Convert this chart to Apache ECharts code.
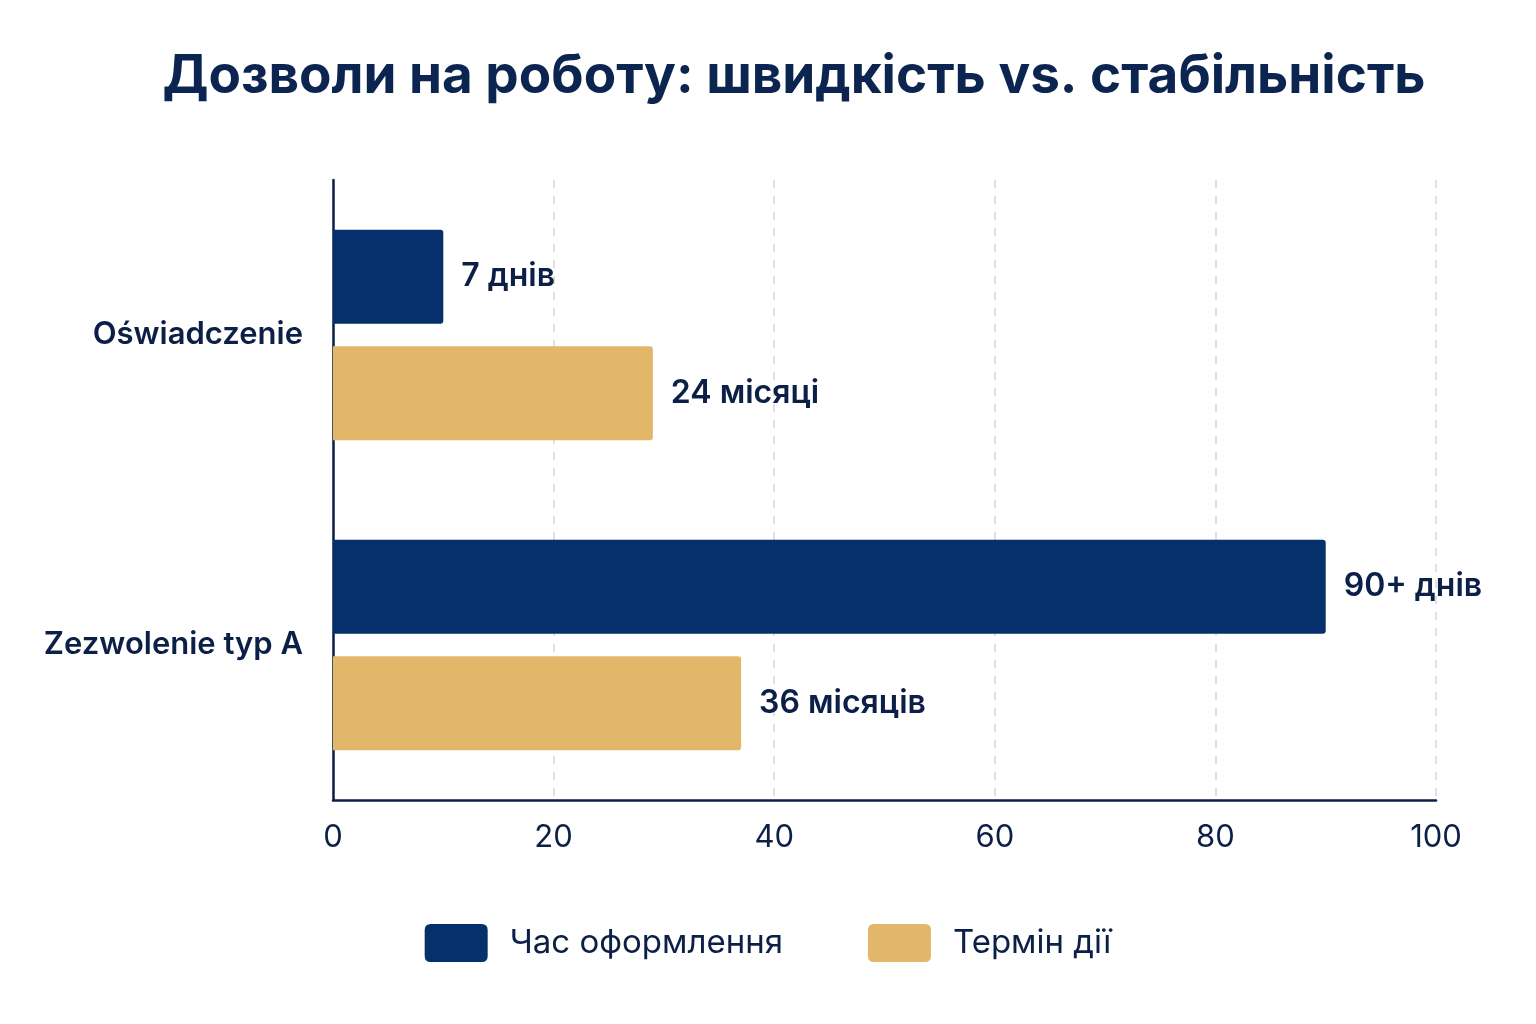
<!DOCTYPE html>
<html>
<head>
<meta charset="utf-8">
<script src="https://cdn.jsdelivr.net/npm/echarts@6/dist/echarts.min.js"></script>
<style>
  html, body { margin: 0; padding: 0; background: #ffffff; }
  #main { width: 1536px; height: 1024px; }
</style>
</head>
<body>
<div id="main"></div>
<script>
// data
var categories = ['Oświadczenie', 'Zezwolenie typ A'];
var seriesNames = ['Час оформлення', 'Термін дії'];
var processTime = [10, 90];
var validity = [29, 37];
var processLabels = ['7 днів', '90+ днів'];
var validityLabels = ['24 місяці', '36 місяців'];
var xTicks = [0, 20, 40, 60, 80, 100];

var navy = '#06306b';
var gold = '#e3b76a';
var ink = '#0c1f47';

var myChart = echarts.init(document.getElementById('main'));

function barLabel(texts) {
    return {
        show: true,
        position: 'right',
        distance: 18,
        color: ink,
        fontFamily: 'Inter',
        fontSize: 32,
        fontWeight: 600,
        formatter: function (p) { return texts[p.dataIndex]; }
    };
}

var option = {
    backgroundColor: '#ffffff',
    textStyle: { fontFamily: 'Inter' },
    title: {
        text: 'Дозволи на роботу: швидкість vs. стабільність',
        left: 789,
        top: 46,
        textAlign: 'center',
        textStyle: {
            color: '#0c2550',
            fontFamily: 'Inter',
            fontSize: 53,
            fontWeight: 700
        }
    },
    legend: {
        data: seriesNames,
        left: 'center',
        top: 919,
        itemWidth: 63,
        itemHeight: 38,
        itemGap: 85,
        icon: 'path://M6,0 L57,0 Q63,0 63,6 L63,32 Q63,38 57,38 L6,38 Q0,38 0,32 L0,6 Q0,0 6,0 Z',
        textStyle: {
            color: ink,
            fontFamily: 'Inter',
            fontSize: 33,
            padding: [0, 0, 0, 17]
        }
    },
    grid: {
        left: 333,
        right: 100,
        top: 180,
        bottom: 224
    },
    xAxis: {
        type: 'value',
        min: xTicks[0],
        max: xTicks[xTicks.length - 1],
        interval: 20,
        axisLine: { show: true, lineStyle: { color: ink, width: 2.5 } },
        axisTick: { show: false },
        axisLabel: {
            color: ink,
            fontFamily: 'Inter',
            fontSize: 31,
            margin: 22
        },
        splitLine: {
            show: true,
            lineStyle: { color: '#d6d6d6', type: [8, 8], width: 1.5 }
        }
    },
    yAxis: {
        type: 'category',
        data: categories,
        inverse: true,
        axisLine: { show: true, lineStyle: { color: ink, width: 2.5 } },
        axisTick: { show: false },
        axisLabel: {
            color: ink,
            fontFamily: 'Inter',
            fontSize: 31,
            fontWeight: 600,
            margin: 30,
            padding: [0, 0, 20, 0]
        },
        splitLine: { show: false }
    },
    series: [
        {
            name: seriesNames[0],
            type: 'bar',
            data: processTime,
            barWidth: 94,
            barGap: '24%',
            itemStyle: { color: navy, borderRadius: [0, 3, 3, 0] },
            label: barLabel(processLabels)
        },
        {
            name: seriesNames[1],
            type: 'bar',
            data: validity,
            barWidth: 94,
            itemStyle: { color: gold, borderRadius: [0, 3, 3, 0] },
            label: barLabel(validityLabels)
        }
    ]
};

myChart.setOption(option);
</script>
</body>
</html>
